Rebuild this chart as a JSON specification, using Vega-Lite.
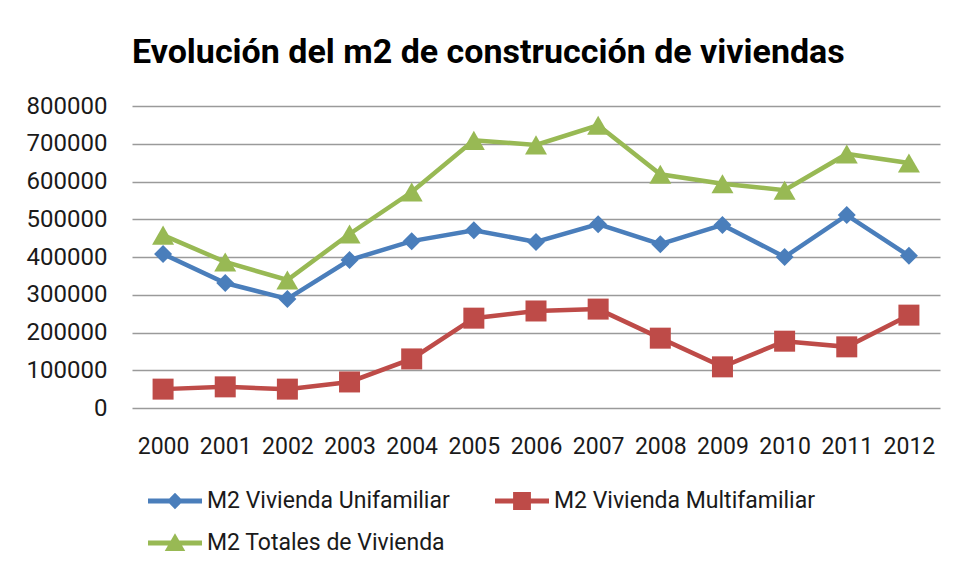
{
  "$schema": "https://vega.github.io/schema/vega-lite/v6.json",
  "width": 808,
  "height": 302,
  "autosize": {"type": "none"},
  "padding": {"left": 132, "top": 106, "right": 20, "bottom": 171},
  "background": "white",
  "title": {
    "text": "Evolución del m2 de construcción de viviendas",
    "anchor": "start",
    "frame": "group",
    "font": "Roboto",
    "fontSize": 34,
    "fontWeight": "bold",
    "color": "#000000",
    "baseline": "alphabetic",
    "offset": -3
  },
  "data": {
    "values": [
      {"year": "2000", "serie": "M2 Vivienda Unifamiliar", "value": 408000},
      {"year": "2001", "serie": "M2 Vivienda Unifamiliar", "value": 331000},
      {"year": "2002", "serie": "M2 Vivienda Unifamiliar", "value": 289000},
      {"year": "2003", "serie": "M2 Vivienda Unifamiliar", "value": 392000},
      {"year": "2004", "serie": "M2 Vivienda Unifamiliar", "value": 442000},
      {"year": "2005", "serie": "M2 Vivienda Unifamiliar", "value": 471000},
      {"year": "2006", "serie": "M2 Vivienda Unifamiliar", "value": 440000},
      {"year": "2007", "serie": "M2 Vivienda Unifamiliar", "value": 487000},
      {"year": "2008", "serie": "M2 Vivienda Unifamiliar", "value": 434000},
      {"year": "2009", "serie": "M2 Vivienda Unifamiliar", "value": 485000},
      {"year": "2010", "serie": "M2 Vivienda Unifamiliar", "value": 400000},
      {"year": "2011", "serie": "M2 Vivienda Unifamiliar", "value": 511000},
      {"year": "2012", "serie": "M2 Vivienda Unifamiliar", "value": 403000},
      {"year": "2000", "serie": "M2 Vivienda Multifamiliar", "value": 50000},
      {"year": "2001", "serie": "M2 Vivienda Multifamiliar", "value": 56000},
      {"year": "2002", "serie": "M2 Vivienda Multifamiliar", "value": 50000},
      {"year": "2003", "serie": "M2 Vivienda Multifamiliar", "value": 69000},
      {"year": "2004", "serie": "M2 Vivienda Multifamiliar", "value": 130000},
      {"year": "2005", "serie": "M2 Vivienda Multifamiliar", "value": 238000},
      {"year": "2006", "serie": "M2 Vivienda Multifamiliar", "value": 257000},
      {"year": "2007", "serie": "M2 Vivienda Multifamiliar", "value": 262000},
      {"year": "2008", "serie": "M2 Vivienda Multifamiliar", "value": 185000},
      {"year": "2009", "serie": "M2 Vivienda Multifamiliar", "value": 109000},
      {"year": "2010", "serie": "M2 Vivienda Multifamiliar", "value": 177000},
      {"year": "2011", "serie": "M2 Vivienda Multifamiliar", "value": 162000},
      {"year": "2012", "serie": "M2 Vivienda Multifamiliar", "value": 246000},
      {"year": "2000", "serie": "M2 Totales de Vivienda", "value": 458000},
      {"year": "2001", "serie": "M2 Totales de Vivienda", "value": 387000},
      {"year": "2002", "serie": "M2 Totales de Vivienda", "value": 339000},
      {"year": "2003", "serie": "M2 Totales de Vivienda", "value": 461000},
      {"year": "2004", "serie": "M2 Totales de Vivienda", "value": 572000},
      {"year": "2005", "serie": "M2 Totales de Vivienda", "value": 709000},
      {"year": "2006", "serie": "M2 Totales de Vivienda", "value": 697000},
      {"year": "2007", "serie": "M2 Totales de Vivienda", "value": 749000},
      {"year": "2008", "serie": "M2 Totales de Vivienda", "value": 619000},
      {"year": "2009", "serie": "M2 Totales de Vivienda", "value": 594000},
      {"year": "2010", "serie": "M2 Totales de Vivienda", "value": 577000},
      {"year": "2011", "serie": "M2 Totales de Vivienda", "value": 673000},
      {"year": "2012", "serie": "M2 Totales de Vivienda", "value": 649000}
    ]
  },
  "encoding": {
    "x": {
      "field": "year",
      "type": "ordinal",
      "scale": {"type": "point", "padding": 0.5},
      "axis": {
        "title": null,
        "labelAngle": 0,
        "labelFont": "Roboto",
        "labelFontSize": 23,
        "labelColor": "#1a1a1a",
        "labelPadding": 27,
        "ticks": false,
        "domain": false,
        "grid": false
      }
    },
    "y": {
      "field": "value",
      "type": "quantitative",
      "scale": {"domain": [0, 800000], "nice": false},
      "axis": {
        "title": null,
        "values": [0, 100000, 200000, 300000, 400000, 500000, 600000, 700000, 800000],
        "format": "d",
        "labelFont": "Roboto",
        "labelFontSize": 24,
        "labelColor": "#1a1a1a",
        "labelPadding": 25,
        "ticks": false,
        "domain": false,
        "grid": true,
        "gridColor": "#9a9a9a",
        "gridWidth": 1.5
      }
    }
  },
  "layer": [
    {
      "mark": {"type": "line", "strokeWidth": 4.5},
      "encoding": {
        "color": {
          "field": "serie",
          "type": "nominal",
          "scale": {
            "domain": ["M2 Vivienda Unifamiliar", "M2 Vivienda Multifamiliar", "M2 Totales de Vivienda"],
            "range": ["#4a7ebb", "#be4b48", "#98b954"]
          },
          "legend": {
            "title": null,
            "orient": "none",
            "legendX": 16,
            "legendY": 368,
            "direction": "horizontal",
            "columns": 2,
            "columnPadding": 45,
            "rowPadding": 3,
            "padding": 0,
            "labelFont": "Roboto",
            "labelFontSize": 23,
            "labelColor": "#1a1a1a",
            "labelOffset": 5,
            "labelLimit": 400,
            "symbolSize": 2916,
            "encode": {
              "symbols": {
                "update": {
                  "shape": {"signal": "datum.value === 'M2 Vivienda Unifamiliar' ? 'M-1,-0.09H1V0.09H-1Z M0,-0.31L0.3,0L0,0.31L-0.3,0Z' : datum.value === 'M2 Vivienda Multifamiliar' ? 'M-1,-0.09H1V0.09H-1Z M-0.33,-0.33H0.33V0.33H-0.33Z' : 'M-1,-0.09H1V0.09H-1Z M0,-0.36L0.38,0.3H-0.38Z'"},
                  "fill": {"scale": "color", "field": "value"},
                  "stroke": {"value": "transparent"},
                  "strokeWidth": {"value": 0},
                  "opacity": {"value": 1}
                }
              }
            }
          }
        }
      }
    },
    {
      "transform": [{"filter": "datum.serie === 'M2 Vivienda Unifamiliar'"}],
      "mark": {"type": "point", "filled": true, "opacity": 1, "strokeWidth": 0, "shape": "diamond", "size": 324, "fill": "#4a7ebb"}
    },
    {
      "transform": [{"filter": "datum.serie === 'M2 Vivienda Multifamiliar'"}],
      "mark": {"type": "point", "filled": true, "opacity": 1, "strokeWidth": 0, "shape": "square", "size": 441, "fill": "#be4b48"}
    },
    {
      "transform": [{"filter": "datum.serie === 'M2 Totales de Vivienda'"}],
      "mark": {"type": "point", "filled": true, "opacity": 1, "strokeWidth": 0, "shape": "triangle-up", "size": 484, "fill": "#98b954"}
    }
  ],
  "config": {
    "view": {"stroke": null}
  }
}
